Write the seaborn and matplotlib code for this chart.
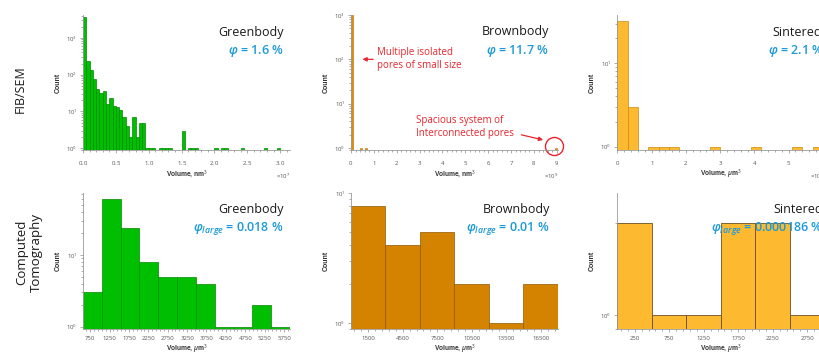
import numpy as np
import pandas as pd
import matplotlib
matplotlib.use("Agg")
import matplotlib.pyplot as plt
import seaborn as sns
from matplotlib.ticker import (LogLocator, MultipleLocator, FixedLocator,
                               AutoMinorLocator, NullFormatter)

# ---------------- data ----------------
# FIB/SEM Greenbody (volume, nm^3) - bin centres and counts
gb_fib_vol = np.array([0.025, 0.075, 0.125, 0.175, 0.225, 0.275, 0.325, 0.375,
                       0.425, 0.475, 0.525, 0.575, 0.625, 0.675, 0.725, 0.775,
                       0.825, 0.875, 0.925, 0.975, 1.025, 1.075, 1.175, 1.225,
                       1.275, 1.325, 1.525, 1.625, 1.675, 1.725, 2.025, 2.125,
                       2.175, 2.425, 2.775, 2.975]) * 1e7
gb_fib_count = [3560, 235, 135, 74, 42, 32, 36, 16, 23, 14, 13, 11, 7, 4, 2, 7,
                2, 5, 5, 1, 1, 1, 1, 1, 1, 1, 3, 1, 1, 1, 1, 1, 1, 1, 1, 1]

# FIB/SEM Brownbody (volume, nm^3)
bb_fib_vol = np.array([0.05, 0.45, 0.65, 8.95]) * 1e9
bb_fib_count = [980, 1, 1, 1]

# FIB/SEM Sintered (volume, um^3, scaled)
si_fib_vol = np.array([0.15, 0.45, 1.05, 1.35, 1.65, 2.85, 4.05, 5.25, 5.85]) * 1e4
si_fib_count = [32, 3, 1, 1, 1, 1, 1, 1, 1]

# Computed tomography Greenbody (volume, um^3)
gb_ct_vol = [808, 1293, 1779, 2264, 2750, 3235, 3721, 4206, 4692, 5177, 5663]
gb_ct_count = [3, 60, 24, 8, 5, 5, 4, 1, 1, 2, 1]
gb_ct_ticks = [750, 1250, 1750, 2250, 2750, 3250, 3750, 4250, 4750, 5250, 5750]

# Computed tomography Brownbody
bb_ct_vol = [1500, 4500, 7500, 10500, 13500, 16500]
bb_ct_count = [8, 4, 5, 2, 1, 2]

# Computed tomography Sintered
si_ct_vol = [250, 750, 1250, 1750, 2250, 2750]
si_ct_count = [2, 1, 1, 2, 2, 1]

titles = ["Greenbody", "Brownbody", "Sintered"]
phi_fib = [r"$\varphi$ = 1.6 %", r"$\varphi$ = 11.7 %", r"$\varphi$ = 2.1 %"]
phi_ct = [r"$\varphi_{large}$ = 0.018 %", r"$\varphi_{large}$ = 0.01 %",
          r"$\varphi_{large}$ = 0.000186 %"]
row_labels = ["FIB/SEM", "Computed\nTomography"]

# ---------------- style ----------------
sns.set_theme(style="ticks")
plt.rcParams["font.family"] = ["Open Sans", "DejaVu Sans"]
plt.rcParams["mathtext.fontset"] = "custom"
plt.rcParams["mathtext.rm"] = "Open Sans"
plt.rcParams["mathtext.it"] = "Open Sans:italic:semibold"
plt.rcParams["mathtext.bf"] = "Open Sans:bold"

GREEN, GREEN_E = "#00BE00", "#008A00"
BROWN, BROWN_E = "#D38300", "#8F5800"
ORANGE_E = "#B86F00"
YELLOW, YELLOW_E = "#FDBA30", "#C98B10"
BLUE = "#1C9AD8"
RED = "#E8242B"
TXT = "#1a1a1a"

W, H = 820, 358
fig = plt.figure(figsize=(W / 100, H / 100), dpi=100)

col_left = [83, 351, 617.5]
ax_w = 207
rows = [(150, 135), (329, 136)]  # (bottom px, height px)


def make_ax(r, c):
    b, h = rows[r]
    return fig.add_axes([col_left[c] / W, (H - b) / H, ax_w / W, h / H])


def style(ax, row):
    for s in ["top", "right"]:
        ax.spines[s].set_visible(False)
    for s in ["left", "bottom"]:
        ax.spines[s].set_color("#9a9a9a")
        ax.spines[s].set_linewidth(0.6)
    ax.tick_params(which="both", direction="out", color="#8a8a8a",
                   labelcolor="#555555", labelsize=4.3, width=0.5)
    ax.tick_params(which="major", length=2.2)
    ax.tick_params(which="minor", length=1.3)
    ax.tick_params(axis="x", which="major", pad=4.6 if row == 0 else 3.2)
    ax.tick_params(axis="y", which="major", pad=2.2)
    ax.set_yscale("log")
    ax.yaxis.set_major_locator(LogLocator(base=10))
    ax.yaxis.set_minor_locator(LogLocator(base=10, subs=np.arange(2, 10)))
    ax.yaxis.set_minor_formatter(NullFormatter())
    ax.set_ylabel("Count", fontsize=5, fontweight="bold", color="#333333",
                  family="Liberation Sans")
    ax.yaxis.set_label_coords(-21.5 / ax_w, 0.5)
    ax.xaxis.get_offset_text().set_fontsize(4.3)
    ax.xaxis.get_offset_text().set_color("#555555")


def hist(ax, vol, cnt, color, ec, binwidth, binrange, lw=0.5):
    df = pd.DataFrame({"vol": vol, "cnt": cnt})
    sns.histplot(data=df, x="vol", weights="cnt", binwidth=binwidth,
                 binrange=binrange, color=color, edgecolor=ec, linewidth=lw,
                 alpha=1, ax=ax)


# ---- FIB/SEM Greenbody ----
ax = make_ax(0, 0)
hist(ax, gb_fib_vol, gb_fib_count, GREEN, GREEN_E, 0.05e7, (0, 3.0e7))
style(ax, 0)
ax.set_xlim(0, 3.15e7)
ax.set_ylim(0.9, 4150)
ax.xaxis.set_major_locator(MultipleLocator(0.5e7))
ax.xaxis.set_minor_locator(AutoMinorLocator(5))
ax.ticklabel_format(axis="x", style="sci", scilimits=(7, 7), useMathText=True)
ax.set_xlabel("Volume, nm$^3$", fontsize=4.8, fontweight="bold", color="#333333",
              family="Liberation Sans")
ax.xaxis.set_label_coords(0.5, -18 / 135)

# ---- FIB/SEM Brownbody ----
ax = make_ax(0, 1)
hist(ax, bb_fib_vol, bb_fib_count, "#E08C00", ORANGE_E, 0.1e9, (0, 9.0e9), lw=0.4)
style(ax, 0)
ax.set_xlim(0, 9.05e9)
ax.set_ylim(0.9, 1000)
ax.xaxis.set_major_locator(MultipleLocator(1e9))
ax.xaxis.set_minor_locator(AutoMinorLocator(5))
ax.ticklabel_format(axis="x", style="sci", scilimits=(9, 9), useMathText=True)
ax.set_xlabel("Volume, nm$^3$", fontsize=4.8, fontweight="bold", color="#333333",
              family="Liberation Sans")
ax.xaxis.set_label_coords(0.5, -18 / 135)
ax.text(1.13e9, 100, "Multiple isolated\npores of small size", color=RED,
        fontsize=7, ha="left", va="center", linespacing=1.25)
ax.annotate("", xy=(0.5e9, 100), xytext=(0.97e9, 100),
            arrowprops=dict(arrowstyle="-|>", color=RED, lw=0.9,
                            mutation_scale=6, shrinkA=0, shrinkB=0))
ax.text(2.84e9, 3.0, "Spacious system of\nInterconnected pores", color=RED,
        fontsize=7, ha="left", va="center", linespacing=1.25)
ax.annotate("", xy=(8.4e9, 1.52), xytext=(7.45e9, 1.98),
            arrowprops=dict(arrowstyle="-|>", color=RED, lw=0.9,
                            mutation_scale=6, shrinkA=0, shrinkB=0))
ax.plot([8.86e9], [1.11], marker="o", ms=13, mfc="none", mec=RED, mew=1.0,
        clip_on=False)

# ---- FIB/SEM Sintered ----
ax = make_ax(0, 2)
hist(ax, si_fib_vol, si_fib_count, YELLOW, YELLOW_E, 0.3e4, (0, 6.0e4))
style(ax, 0)
ax.set_xlim(0, 6.05e4)
ax.set_ylim(0.91, 38)
ax.xaxis.set_major_locator(MultipleLocator(1e4))
ax.xaxis.set_minor_locator(AutoMinorLocator(5))
ax.ticklabel_format(axis="x", style="sci", scilimits=(4, 4), useMathText=True)
ax.set_xlabel(r"Volume, $\mu$m$^3$", fontsize=4.8, fontweight="bold",
              color="#333333", family="Liberation Sans")
ax.xaxis.set_label_coords(0.5, -18 / 135)

# ---- CT Greenbody ----
ax = make_ax(1, 0)
hist(ax, gb_ct_vol, gb_ct_count, GREEN, GREEN_E, (5905 - 565) / 11, (565, 5905))
style(ax, 1)
ax.set_xlim(565, 5905)
ax.set_ylim(0.93, 73)
ax.xaxis.set_major_locator(FixedLocator(gb_ct_ticks))
ax.xaxis.set_minor_locator(AutoMinorLocator(5))
ax.set_xlabel(r"Volume, $\mu$m$^3$", fontsize=4.8, fontweight="bold",
              color="#333333", family="Liberation Sans")
ax.xaxis.set_label_coords(0.5, -14 / 136)

# ---- CT Brownbody ----
ax = make_ax(1, 1)
hist(ax, bb_ct_vol, bb_ct_count, BROWN, BROWN_E, 3000, (0, 18000))
style(ax, 1)
ax.set_xlim(0, 18000)
ax.set_ylim(0.9, 10)
ax.xaxis.set_major_locator(FixedLocator(bb_ct_vol))
ax.xaxis.set_minor_locator(AutoMinorLocator(5))
ax.set_xlabel(r"Volume, $\mu$m$^3$", fontsize=4.8, fontweight="bold",
              color="#333333", family="Liberation Sans")
ax.xaxis.set_label_coords(0.5, -14 / 136)

# ---- CT Sintered ----
ax = make_ax(1, 2)
hist(ax, si_ct_vol, si_ct_count, YELLOW, "#6b5020", 500, (0, 3000), lw=0.6)
style(ax, 1)
ax.set_xlim(0, 3000)
ax.set_ylim(0.9, 2.5)
ax.xaxis.set_major_locator(FixedLocator(si_ct_vol))
ax.xaxis.set_minor_locator(AutoMinorLocator(5))
ax.set_xlabel(r"Volume, $\mu$m$^3$", fontsize=4.8, fontweight="bold",
              color="#333333", family="Liberation Sans")
ax.xaxis.set_label_coords(0.5, -14 / 136)

# ---- panel titles ----
axes = fig.axes
# top row
for c, ax in enumerate(axes[:3]):
    if c < 2:
        ax.text([0.97, 0.957][c], [0.868, 0.88][c], titles[c], transform=ax.transAxes,
                ha="right", va="center", fontsize=9, color=TXT)
        ax.text([0.97, 0.957][c], [0.733, 0.737][c], phi_fib[c], transform=ax.transAxes,
                ha="right", va="center", fontsize=9, color=BLUE, fontweight="semibold")
    else:
        ax.text(0.749, 0.868, titles[c], transform=ax.transAxes,
                ha="left", va="center", fontsize=9, color=TXT, clip_on=False)
        ax.text(0.725, 0.733, phi_fib[c], transform=ax.transAxes,
                ha="left", va="center", fontsize=9, color=BLUE, fontweight="semibold")
# bottom row
for c, ax in enumerate(axes[3:]):
    if c < 2:
        ax.text([0.97, 0.96][c], 0.88, titles[c], transform=ax.transAxes,
                ha="right", va="center", fontsize=9, color=TXT)
        ax.text([0.97, 0.96][c], 0.74, phi_ct[c], transform=ax.transAxes,
                ha="right", va="center", fontsize=9, color=BLUE, fontweight="semibold")
    else:
        ax.text(0.754, 0.88, titles[c], transform=ax.transAxes,
                ha="left", va="center", fontsize=9, color=TXT)
        ax.text(0.454, 0.74, phi_ct[c], transform=ax.transAxes,
                ha="left", va="center", fontsize=9, color=BLUE, fontweight="semibold")

# ---- row labels ----
fig.text(20 / W, 1 - 89 / H, row_labels[0], rotation=90, ha="center",
         va="center", fontsize=9, color=TXT)
fig.text(29 / W, 1 - 252 / H, row_labels[1], rotation=90, ha="center",
         va="center", fontsize=9.5, color=TXT, multialignment="center",
         linespacing=1.1)

fig.savefig("out.png", dpi=100)
